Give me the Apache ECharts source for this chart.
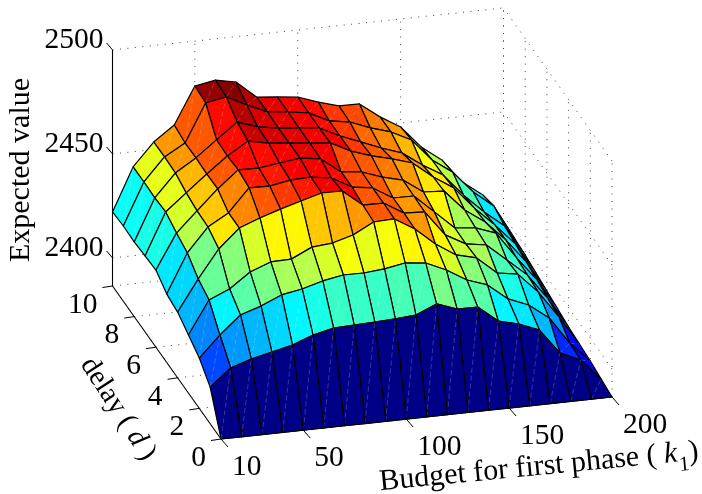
<!DOCTYPE html>
<html>
<head>
<meta charset="utf-8">
<style>html,body{margin:0;padding:0;background:#fff}#c{width:702px;height:494px}</style>
<script src="https://cdn.jsdelivr.net/npm/echarts@6/dist/echarts.min.js"></script>
</head>
<body>
<div id="c"></div>
<script>
var kValues = [10,20,30,40,50,60,70,80,90,100,110,120,130,140,150,160,170,180,190,200];
var dValues = [0,1,2,3,4,5,6,7,8,9,10];
var kTicks = [10,50,100,150,200];
var dTicks = [0,2,4,6,8,10];
var zTicks = [2400,2450,2500];
var zFloor = 2386.5, zTop = 2500;
var d0 = [2386.5,2386.5,2386.5,2386.5,2386.5,2386.5,2386.5,2386.5,2386.5,2386.5,2386.5,2386.5,2386.5,2386.5,2386.5,2386.5,2386.5,2386.5,2386.5,2386.5];
var d1 = [2404.1,2412.2,2415.5,2417.8,2420.1,2423.8,2426.1,2426.5,2426.9,2427.3,2428.1,2432.4,2428.9,2428.8,2421,2418.5,2414.5,2402.4,2398,2387.8];
var d2 = [2410.7,2420.7,2429.3,2432.5,2436.8,2438.6,2441.4,2443.2,2443.1,2444,2445.8,2444.7,2440.3,2434.4,2431,2423.2,2419.2,2411.9,2398.8,2389.1];
var d3 = [2414.4,2430.2,2434.4,2441.5,2445.3,2445.6,2450.3,2451.2,2454,2459.2,2459.6,2453.7,2445.4,2439.1,2436.6,2428.3,2426.7,2417,2404,2389.9];
var d4 = [2418.1,2432.9,2446.3,2455.3,2459.1,2462.3,2465.1,2467.9,2467.8,2460,2459.9,2454,2453.5,2441.4,2436,2434.4,2426.1,2417.8,2405.3,2390.7];
var d5 = [2419.4,2438.1,2449.5,2455.2,2466.2,2466,2467.8,2468.2,2466.7,2461.3,2459.8,2453.9,2453.8,2445.1,2436.3,2435.3,2431.7,2418.7,2407,2392];
var d6 = [2423.6,2440.3,2449.9,2459.4,2467.5,2467.3,2468.7,2470,2468.5,2461.2,2460.1,2456.6,2454.1,2447.3,2446.7,2436.5,2429.7,2420,2408.3,2393.3];
var d7 = [2423,2443.1,2451.2,2459.2,2466.8,2472.9,2470.9,2469.9,2468.8,2467.8,2462.8,2459.4,2456.9,2453.9,2446.1,2439.8,2429,2419.8,2409.6,2394.6];
var d8 = [2422.4,2442.5,2453.4,2459.6,2467.2,2474.7,2471.3,2469.7,2468.7,2467.6,2462.7,2458.8,2454.8,2451.4,2444.5,2438.7,2427.9,2418.7,2410.9,2395.9];
var d9 = [2422.7,2442.8,2453.8,2459.4,2477.6,2479.4,2474.5,2470.1,2469,2467.5,2462.6,2461,2457.1,2454.1,2449.2,2438.5,2431.6,2421,2413.2,2396.7];
var d10 = [2422.1,2442.7,2453.6,2460.7,2478.4,2480.2,2478.2,2469.9,2468.9,2467.8,2464.3,2461.4,2461.3,2454,2448.1,2437.4,2430.1,2418.4,2411.1,2396.6];
var zRows = [d0,d1,d2,d3,d4,d5,d6,d7,d8,d9,d10];

function project(k, d, z) {
  return [221 + 2.058 * (k - 10) - 10.85 * d,
          439 - 0.221 * (k - 10) - 15.3 * d - 2.08 * (z - zFloor)];
}
function jet(z) {
  var lo = zFloor, hi = 2479.4;
  var i = Math.min(63, Math.max(0, Math.floor((z - lo) / (hi - lo) * 64)));
  var x = (i + 0.5) / 64;
  function c(v) { return Math.round(255 * Math.max(0, Math.min(1, v))); }
  return 'rgb(' + c(Math.min(4 * x - 1.5, -4 * x + 4.5)) + ',' + c(Math.min(4 * x - 0.5, -4 * x + 3.5)) + ',' + c(Math.min(4 * x + 0.5, -4 * x + 2.5)) + ')';
}

// back-to-front list of mesh cells
var faces = [];
for (var di = dValues.length - 2; di >= 0; di--) {
  for (var ki = kValues.length - 2; ki >= 0; ki--) faces.push([ki, di]);
}

// dotted wall & floor grid, solid axes, ticks
var kMin = kValues[0], kMax = kValues[kValues.length - 1], dMax = 10;
var gridLines = [];
kTicks.forEach(function (k) {
  gridLines.push([[k, dMax, zFloor], [k, dMax, zTop]]);
  gridLines.push([[k, 0, zFloor], [k, dMax, zFloor]]);
});
dTicks.forEach(function (d) {
  gridLines.push([[kMax, d, zFloor], [kMax, d, zTop]]);
  gridLines.push([[kMin, d, zFloor], [kMax, d, zFloor]]);
});
zTicks.forEach(function (z) {
  gridLines.push([[kMin, dMax, z], [kMax, dMax, z]]);
  gridLines.push([[kMax, 0, z], [kMax, dMax, z]]);
});
gridLines.push([[kMin, dMax, zFloor], [kMin, dMax, zTop]]);

var axisLines = [
  [[kMin, 0, zFloor], [kMax, 0, zFloor]],
  [[kMin, 0, zFloor], [kMin, dMax, zFloor]],
  [[kMin, dMax, zFloor], [kMin, dMax, zTop]]
];
var tickItems = [];
kTicks.forEach(function (k) { tickItems.push({ p: [k, 0, zFloor], o: [7, 8], t: String(k), a: 'left', l: [11, 28] }); });
dTicks.forEach(function (d) { tickItems.push({ p: [kMin, d, zFloor], o: [-10, 1.5], t: String(d), a: 'right', l: [-15, 19] }); });
zTicks.forEach(function (z) { tickItems.push({ p: [kMin, dMax, z], o: [-6, -7], t: String(z), a: 'right', l: [-9, -10] }); });

var serif = '"Liberation Serif","Times New Roman",serif';
var titles = [
  { x: 21, y: 170, r: Math.PI / 2, text: 'Expected value' },
  { x: 118, y: 409, r: -57 * Math.PI / 180, text: '{b|delay ( }{j|d}{b| )}' },
  { x: 539, y: 467, r: 5.5 * Math.PI / 180, text: '{a|Budget for first phase ( }{i|k}{s|1}{a|)}' }
];

var chart = echarts.init(document.getElementById('c'), null, { renderer: 'canvas', width: 702, height: 494 });

function lineSeries(lines, stroke, width, dash, z) {
  return {
    type: 'custom', coordinateSystem: 'cartesian2d', clip: false, silent: true, z: z,
    data: lines.map(function (_, i) { return [i]; }),
    renderItem: function (params, api) {
      var s = lines[params.dataIndex];
      var p = api.coord(project.apply(null, s[0])), q = api.coord(project.apply(null, s[1]));
      return { type: 'line', shape: { x1: p[0], y1: p[1], x2: q[0], y2: q[1] },
               style: { stroke: stroke, lineWidth: width, lineDash: dash || null } };
    }
  };
}

chart.setOption({
  animation: false,
  backgroundColor: '#fff',
  grid: { left: 0, right: 0, top: 0, bottom: 0 },
  xAxis: { type: 'value', min: 0, max: 702, show: false },
  yAxis: { type: 'value', min: 0, max: 494, inverse: true, show: false },
  series: [
    lineSeries(gridLines, '#444', 1, [1, 6.5], 1),
    lineSeries(axisLines, '#000', 1.1, null, 2),
    {
      type: 'custom', coordinateSystem: 'cartesian2d', clip: false, silent: true, z: 3,
      data: tickItems.map(function (_, i) { return [i]; }),
      renderItem: function (params, api) {
        var t = tickItems[params.dataIndex];
        var p = api.coord(project.apply(null, t.p));
        return { type: 'group', children: [
          { type: 'line', shape: { x1: p[0], y1: p[1], x2: p[0] + t.o[0], y2: p[1] + t.o[1] },
            style: { stroke: '#000', lineWidth: 1 } },
          { type: 'text', x: p[0] + t.l[0], y: p[1] + t.l[1],
            style: { text: t.t, fill: '#000', font: '29.5px ' + serif, textAlign: t.a, textVerticalAlign: 'middle' } }
        ] };
      }
    },
    {
      type: 'custom', coordinateSystem: 'cartesian2d', clip: false, silent: true, z: 4,
      progressive: 0,
      data: faces,
      renderItem: function (params, api) {
        var f = faces[params.dataIndex], ki = f[0], di = f[1];
        function v(a, b) { return api.coord(project(kValues[a], dValues[b], zRows[b][a])); }
        var A = v(ki, di), B = v(ki + 1, di), C = v(ki + 1, di + 1), D = v(ki, di + 1);
        return { type: 'group', children: [
          { type: 'polygon', shape: { points: [A, B, C, D] },
            style: { fill: jet(zRows[di][ki]), stroke: '#000', lineWidth: 1.2, lineJoin: 'round' } },
          { type: 'line', shape: { x1: A[0], y1: A[1], x2: C[0], y2: C[1] },
            style: { stroke: 'rgba(255,255,255,0.3)', lineWidth: 0.7, lineDash: [5, 3] } }
        ] };
      }
    },
    {
      type: 'custom', coordinateSystem: 'cartesian2d', clip: false, silent: true, z: 5,
      data: titles.map(function (_, i) { return [i]; }),
      renderItem: function (params, api) {
        var t = titles[params.dataIndex], p = api.coord([t.x, t.y]);
        return { type: 'text', x: p[0], y: p[1], rotation: t.r,
          style: { text: t.text, fill: '#000', font: '30px ' + serif, textAlign: 'center', textVerticalAlign: 'middle',
            rich: {
              a: { font: '30px ' + serif, fill: '#000' },
              i: { font: 'italic 30px ' + serif, fill: '#000' },
              b: { font: '28.5px ' + serif, fill: '#000' },
              j: { font: 'italic 28.5px ' + serif, fill: '#000' },
              s: { font: '21px ' + serif, fill: '#000', padding: [24, 0, 0, 1] }
            } } };
      }
    }
  ]
});
</script>
</body>
</html>
